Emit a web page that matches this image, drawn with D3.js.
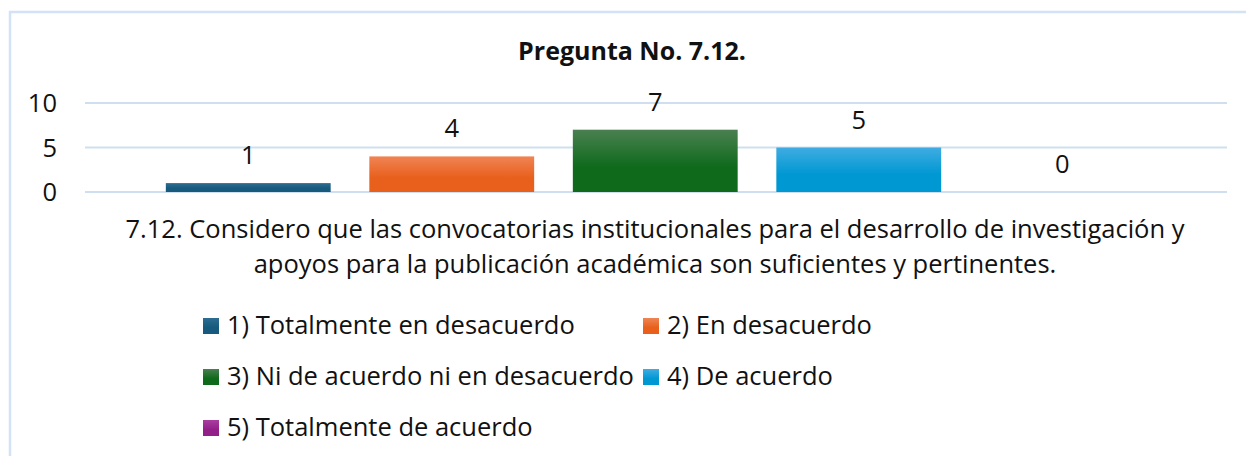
<!DOCTYPE html>
<html lang="es">
<head>
<meta charset="utf-8" />
<title>Pregunta No. 7.12.</title>
<script src="https://cdn.jsdelivr.net/npm/d3@7"></script>
<style>
  body { margin: 0; background: #fff; }
  svg text { font-family: "Open Sans", Lato, sans-serif; fill: #111; }
</style>
</head>
<body>
<div id="chart"></div>
<script>
// data
var categories = ["1) Totalmente en desacuerdo", "2) En desacuerdo",
                  "3) Ni de acuerdo ni en desacuerdo", "4) De acuerdo",
                  "5) Totalmente de acuerdo"];
var values = [1, 4, 7, 5, 0];
var yTicks = [0, 5, 10];
var title = "Pregunta No. 7.12.";
var axisLabel = ["7.12. Considero que las convocatorias institucionales para el desarrollo de investigación y",
                 "apoyos para la publicación académica son suficientes y pertinentes."];
var colors = [["#2d6d92", "#165a7e"], ["#f08454", "#e8601c"], ["#4a8050", "#0f6a1c"],
              ["#40ace2", "#0098d3"], ["#a83ea0", "#932089"]];

var W = 1246, H = 456;
var FS = 25.5;
var svg = d3.select("#chart").append("svg").attr("width", W).attr("height", H);

// gradients for the bars (Excel style)
var defs = svg.append("defs");
colors.forEach(function(c, i) {
  var g = defs.append("linearGradient").attr("id", "grad" + i)
    .attr("x1", 0).attr("y1", 0).attr("x2", 0).attr("y2", 1);
  g.append("stop").attr("offset", "0%").attr("stop-color", c[0]);
  g.append("stop").attr("offset", "60%").attr("stop-color", c[1]);
  g.append("stop").attr("offset", "100%").attr("stop-color", c[1]);
});

// chart frame (runs off the right and bottom)
svg.append("rect").attr("x", 10).attr("y", 12).attr("width", 1400).attr("height", 600)
  .attr("fill", "none").attr("stroke", "#d3e2f4").attr("stroke-width", 2.5);

var y = d3.scaleLinear().domain([0, 10]).range([192, 103]);
var x = d3.scaleBand().domain(categories).range([146.5, 1164]).paddingInner(0.19).paddingOuter(0.095);

// gridlines
svg.append("g").selectAll("line").data(yTicks).enter().append("line")
  .attr("x1", 85).attr("x2", 1227)
  .attr("y1", function(d) { return y(d); }).attr("y2", function(d) { return y(d); })
  .attr("stroke", "#d0dff0").attr("stroke-width", 2);

// y axis labels
var yAxis = d3.axisLeft(y).tickValues(yTicks).tickSize(0).tickPadding(0);
var ga = svg.append("g").attr("transform", "translate(57,0)").call(yAxis);
ga.select(".domain").remove();
ga.selectAll("text").attr("font-size", FS).attr("font-family", "Open Sans")
  .attr("fill", "#111").attr("dy", "0.35em");

// bars
svg.append("g").selectAll("rect").data(values).enter().append("rect")
  .attr("x", function(d, i) { return x(categories[i]); })
  .attr("width", x.bandwidth())
  .attr("y", function(d) { return y(d); })
  .attr("height", function(d) { return y(0) - y(d); })
  .attr("fill", function(d, i) { return "url(#grad" + i + ")"; });

// value labels
svg.append("g").selectAll("text").data(values).enter().append("text")
  .attr("x", function(d, i) { return x(categories[i]) + x.bandwidth() / 2; })
  .attr("y", function(d) { return y(d) - 19; })
  .attr("text-anchor", "middle").attr("font-size", FS)
  .text(function(d) { return d; });

// title
svg.append("text").attr("x", 632).attr("y", 60).attr("text-anchor", "middle")
  .attr("font-size", 25).attr("font-weight", "bold").text(title);

// category axis label
svg.append("g").selectAll("text").data(axisLabel).enter().append("text")
  .attr("x", 655).attr("y", function(d, i) { return 238 + i * 35; })
  .attr("text-anchor", "middle").attr("font-size", FS)
  .text(function(d) { return d; });

// legend
var legendPos = [[203, 334], [643, 334], [203, 385], [643, 385], [203, 436]];
var lg = svg.append("g").selectAll("g").data(categories).enter().append("g")
  .attr("transform", function(d, i) { return "translate(" + legendPos[i][0] + "," + legendPos[i][1] + ")"; });
lg.append("rect").attr("x", 0).attr("y", -16).attr("width", 16).attr("height", 16)
  .attr("fill", function(d, i) { return "url(#grad" + i + ")"; });
lg.append("text").attr("x", 24).attr("y", 0).attr("font-size", FS)
  .text(function(d) { return d; });
</script>
</body>
</html>
